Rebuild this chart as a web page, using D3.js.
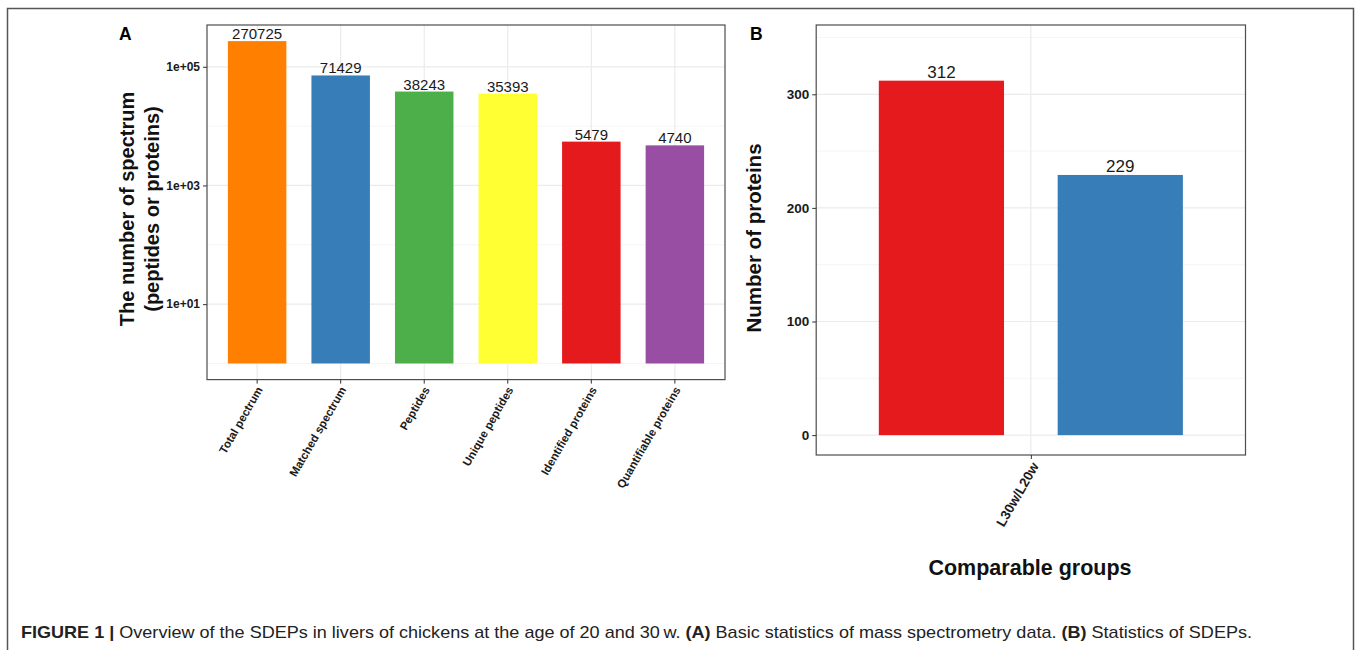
<!DOCTYPE html>
<html><head><meta charset="utf-8">
<script src="https://cdn.jsdelivr.net/npm/d3@7"></script>
<style>
html,body{margin:0;padding:0;background:#fff;}
svg{display:block;font-family:"Liberation Sans",Arial,Helvetica,sans-serif;}
</style></head>
<body>
<svg id="chart" width="1357" height="650"></svg>
<script>
// ---------- data ----------
const categoriesA = ["Total pectrum", "Matched spectrum", "Peptides", "Unique peptides", "Identified proteins", "Quantifiable proteins"];
const valuesA = [270725, 71429, 38243, 35393, 5479, 4740];
const yTickValuesA = [10, 1000, 100000];
const yTickLabelsA = ["1e+01", "1e+03", "1e+05"];

const groupsB = ["L30w/L20w"];
const seriesB = ["Up", "Down"];
const valuesB = [312, 229];
const yTickValuesB = [0, 100, 200, 300];

const colorsA = ["#FF7F00", "#377EB8", "#4DAF4A", "#FFFF33", "#E41A1C", "#984EA3"];
const colorsB = ["#E41A1C", "#377EB8"];

const svg = d3.select("#chart");
const GRID = "#ebebeb", GRID_MINOR = "#f2f2f2", BORDER = "#4d4d4d";

// outer frame (open at bottom)
svg.append("path").attr("d", "M7.5,660 V8.5 H1353.5 V660")
  .attr("fill", "none").attr("stroke", "#555").attr("stroke-width", 1.5);

// ================= Panel A =================
const A = {l: 207, r: 725, t: 25, b: 379.6};
const lo = 0, hi = Math.log10(d3.max(valuesA)), padA = 0.05 * (hi - lo);
const yA = d3.scaleLog().domain([Math.pow(10, lo - padA), Math.pow(10, hi + padA)]).range([A.b, A.t]);
const xA = d3.scaleBand().domain(categoriesA).range([A.l, A.r]).paddingInner(0.3).paddingOuter(0.25);
const gA = svg.append("g");

const minorA = [1, 100, 10000];
gA.selectAll(".minA").data(minorA).enter().append("line")
  .attr("x1", A.l).attr("x2", A.r).attr("y1", d => yA(d)).attr("y2", d => yA(d))
  .attr("stroke", GRID_MINOR).attr("stroke-width", 0.8);
gA.selectAll(".majA").data(yTickValuesA).enter().append("line")
  .attr("x1", A.l).attr("x2", A.r).attr("y1", d => yA(d)).attr("y2", d => yA(d))
  .attr("stroke", GRID).attr("stroke-width", 1.2);
gA.selectAll(".vA").data(categoriesA).enter().append("line")
  .attr("y1", A.t).attr("y2", A.b)
  .attr("x1", d => xA(d) + xA.bandwidth() / 2).attr("x2", d => xA(d) + xA.bandwidth() / 2)
  .attr("stroke", GRID).attr("stroke-width", 1.2);

gA.selectAll(".barA").data(valuesA).enter().append("rect")
  .attr("x", (d, i) => xA(categoriesA[i]))
  .attr("width", xA.bandwidth())
  .attr("y", d => yA(d))
  .attr("height", d => yA(1) - yA(d))
  .attr("fill", (d, i) => colorsA[i]);

gA.selectAll(".lblA").data(valuesA).enter().append("text")
  .attr("x", (d, i) => xA(categoriesA[i]) + xA.bandwidth() / 2)
  .attr("y", d => yA(d) - 2)
  .attr("text-anchor", "middle").attr("font-size", 15).attr("fill", "#1a1a1a")
  .text(d => d);

gA.append("rect").attr("x", A.l).attr("y", A.t).attr("width", A.r - A.l).attr("height", A.b - A.t)
  .attr("fill", "none").attr("stroke", BORDER).attr("stroke-width", 1.2);

const axYA = d3.axisLeft(yA).tickValues(yTickValuesA).tickFormat((d, i) => yTickLabelsA[i]).tickSize(4).tickPadding(3);
const gyA = gA.append("g").attr("transform", `translate(${A.l},0)`).call(axYA);
gyA.select(".domain").remove();
gyA.selectAll("line").attr("stroke", "#333");
gyA.selectAll("text").attr("font-size", 12).attr("font-weight", "bold").attr("fill", "#1a1a1a")
  .attr("font-family", "Liberation Sans, Arial, sans-serif");

const axXA = d3.axisBottom(xA).tickSize(4).tickPadding(0);
const gxA = gA.append("g").attr("transform", `translate(0,${A.b})`).call(axXA);
gxA.select(".domain").remove();
gxA.selectAll("line").attr("stroke", "#333");
gxA.selectAll("text").attr("font-size", 11.5).attr("font-weight", "bold").attr("fill", "#1a1a1a")
  .attr("font-family", "Liberation Sans, Arial, sans-serif")
  .attr("text-anchor", "end").attr("dy", null).attr("y", null)
  .attr("transform", "translate(6,10) rotate(-60)");

gA.append("text").attr("transform", "translate(134,209) rotate(-90)")
  .attr("text-anchor", "middle").attr("font-size", 20).attr("font-weight", "bold").attr("fill", "#111")
  .text("The number of spectrum");
gA.append("text").attr("transform", "translate(159,209) rotate(-90)")
  .attr("text-anchor", "middle").attr("font-size", 20).attr("font-weight", "bold").attr("fill", "#111")
  .text("(peptides or proteins)");

gA.append("text").attr("x", 119).attr("y", 40).attr("font-size", 17.5).attr("font-weight", "bold").text("A");

// ================= Panel B =================
const B = {l: 816.2, r: 1245.5, t: 25, b: 455};
const xB = d3.scaleLinear().domain([0.4, groupsB.length + 0.6]).range([B.l, B.r]);
const yB = d3.scaleLinear().domain([-17.5, 361]).range([B.b, B.t]);
const dodge = [-0.25, 0.25], barW = 0.35;
const gB = svg.append("g");

const minorB = [50, 150, 250, 350];
gB.selectAll(".minB").data(minorB).enter().append("line")
  .attr("x1", B.l).attr("x2", B.r).attr("y1", d => yB(d)).attr("y2", d => yB(d))
  .attr("stroke", GRID_MINOR).attr("stroke-width", 0.8);
gB.selectAll(".majB").data(yTickValuesB).enter().append("line")
  .attr("x1", B.l).attr("x2", B.r).attr("y1", d => yB(d)).attr("y2", d => yB(d))
  .attr("stroke", GRID).attr("stroke-width", 1.2);
gB.selectAll(".vB").data(groupsB).enter().append("line")
  .attr("y1", B.t).attr("y2", B.b)
  .attr("x1", (d, i) => xB(i + 1)).attr("x2", (d, i) => xB(i + 1))
  .attr("stroke", GRID).attr("stroke-width", 1.2);

gB.selectAll(".barB").data(valuesB).enter().append("rect")
  .attr("x", (d, i) => xB(1 + dodge[i] - barW / 2))
  .attr("width", xB(barW) - xB(0))
  .attr("y", d => yB(d))
  .attr("height", d => yB(0) - yB(d))
  .attr("fill", (d, i) => colorsB[i]);

gB.selectAll(".lblB").data(valuesB).enter().append("text")
  .attr("x", (d, i) => xB(1 + dodge[i]))
  .attr("y", d => yB(d) - 2.5)
  .attr("text-anchor", "middle").attr("font-size", 17).attr("fill", "#1a1a1a")
  .text(d => d);

gB.append("rect").attr("x", B.l).attr("y", B.t).attr("width", B.r - B.l).attr("height", B.b - B.t)
  .attr("fill", "none").attr("stroke", BORDER).attr("stroke-width", 1.2);

const axYB = d3.axisLeft(yB).tickValues(yTickValuesB).tickSize(4).tickPadding(3);
const gyB = gB.append("g").attr("transform", `translate(${B.l},0)`).call(axYB);
gyB.select(".domain").remove();
gyB.selectAll("line").attr("stroke", "#333");
gyB.selectAll("text").attr("font-size", 13.5).attr("font-weight", "bold").attr("fill", "#1a1a1a")
  .attr("font-family", "Liberation Sans, Arial, sans-serif");

const xBand = d3.scalePoint().domain(groupsB).range([xB(1), xB(groupsB.length)]);
const axXB = d3.axisBottom(xBand).tickSize(4).tickPadding(0);
const gxB = gB.append("g").attr("transform", `translate(0,${B.b})`).call(axXB);
gxB.select(".domain").remove();
gxB.selectAll("line").attr("stroke", "#333");
gxB.selectAll("text").attr("font-size", 13.5).attr("font-weight", "bold").attr("fill", "#1a1a1a")
  .attr("font-family", "Liberation Sans, Arial, sans-serif")
  .attr("text-anchor", "end").attr("dy", null).attr("y", null)
  .attr("transform", "translate(8,11) rotate(-60)");

gB.append("text").attr("transform", "translate(761,238) rotate(-90)")
  .attr("text-anchor", "middle").attr("font-size", 20.5).attr("font-weight", "bold").attr("fill", "#111")
  .text("Number of proteins");
gB.append("text").attr("x", 1030).attr("y", 575)
  .attr("text-anchor", "middle").attr("font-size", 21.5).attr("font-weight", "bold").attr("fill", "#111")
  .text("Comparable groups");

gB.append("text").attr("x", 750).attr("y", 40).attr("font-size", 17.5).attr("font-weight", "bold").text("B");

// ================= Caption =================
const cap = svg.append("text").attr("x", 21).attr("y", 638).attr("font-size", 17).attr("fill", "#222")
  .attr("textLength", 1231).attr("lengthAdjust", "spacingAndGlyphs");
cap.append("tspan").attr("font-weight", "bold").text("FIGURE 1 | ");
cap.append("tspan").text("Overview of the SDEPs in livers of chickens at the age of 20 and 30\u2009w. ");
cap.append("tspan").attr("font-weight", "bold").text("(A)");
cap.append("tspan").text(" Basic statistics of mass spectrometry data. ");
cap.append("tspan").attr("font-weight", "bold").text("(B)");
cap.append("tspan").text(" Statistics of SDEPs.");
</script>
</body></html>
